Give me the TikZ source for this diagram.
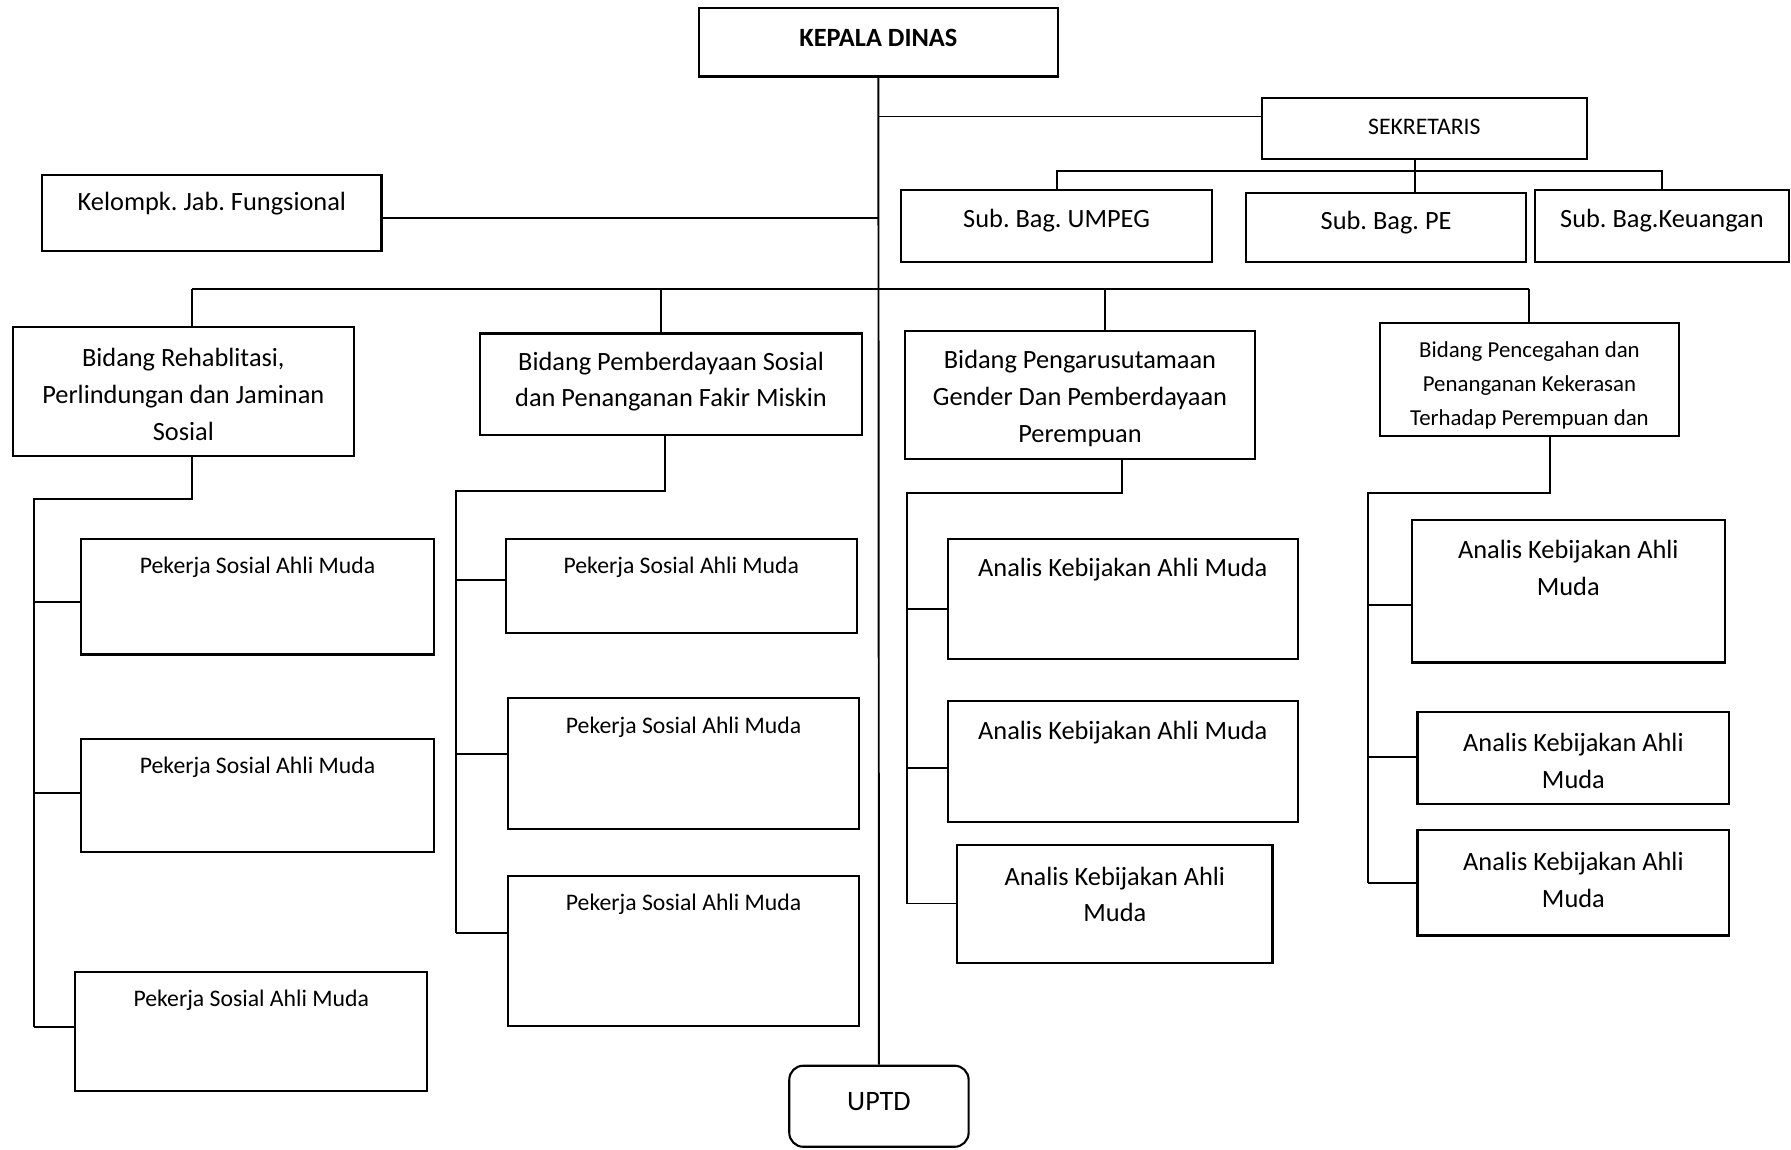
\documentclass[tikz,border=0pt]{standalone}
\usepackage{fontspec}
\setmainfont{Carlito}
\frenchspacing
\usetikzlibrary{fit}
\newcommand{\px}{0.022844cm}
\tikzset{
    box/.style={draw, rectangle, line width=1.2pt, inner sep=0pt}
}
\tikzset{
    lbl/.style={anchor=center, align=center, inner sep=0pt, yshift=-3*\px,
    	font=\fontsize{15}{21}\selectfont},
    lblsmall/.style={lbl, font=\fontsize{13.5}{19.5}\selectfont}
}
\tikzset{
    link/.style={line width=1.1pt}
}

\begin{document}
\begin{tikzpicture}[x=\px, y=-\px]
	\useasboundingbox (0,0) rectangle (1568,1006);

	\node (kd) [box, fit={(612,7) (926,67)}, label={[lbl, font=\fontsize{15}{21}\selectfont\bfseries, yshift=-24*\px]north:KEPALA DINAS}] {};
	\node (sek) [box, fit={(1105,86) (1389,139)}, label={[lblsmall, yshift=-23*\px]north:SEKRETARIS}] {};
	\node (kjf) [box, fit={(37,153) (334,220)}, label={[lbl, yshift=-23*\px]north:Kelompk. Jab. Fungsional}] {};
	\node (umpeg) [box, fit={(789,166) (1061,229)}, label={[lbl, yshift=-25*\px]north:Sub. Bag. UMPEG}] {};
	\node (pe) [box, fit={(1091,169) (1336,229)}, label={[lbl, yshift=-24*\px]north:Sub. Bag. PE}] {};
	\node (keu) [box, fit={(1344,166) (1566,229)}, label={[lbl, yshift=-25*\px]north:Sub. Bag.Keuangan}] {};

	\node (b1) [box, fit={(11,286) (310,399)}, label={[lbl, yshift=-57.5*\px]north:{Bidang Rehablitasi,\\Perlindungan dan Jaminan\\Sosial}}] {};
	\node (b2) [box, fit={(420,292) (755,381)}, label={[lbl, yshift=-40*\px]north:{Bidang Pemberdayaan Sosial\\dan Penanganan Fakir Miskin}}] {};
	\node (b3) [box, fit={(792,290) (1099,402)}, label={[lbl, yshift=-56.5*\px]north:{Bidang Pengarusutamaan\\Gender Dan Pemberdayaan\\Perempuan}}] {};
	\node (b4) [box, fit={(1208,283) (1470,382)}, label={[lbl, font=\fontsize{13}{19.5}\selectfont, yshift=-52.5*\px]north:{Bidang Pencegahan dan\\Penanganan Kekerasan\\Terhadap Perempuan dan}}] {};

	\node (pk1) [box, fit={(71,472) (380,573)}, label={[lblsmall, yshift=-23*\px]north:Pekerja Sosial Ahli Muda}] {};
	\node (pk2) [box, fit={(71,647) (380,746)}, label={[lblsmall, yshift=-23*\px]north:Pekerja Sosial Ahli Muda}] {};
	\node (pk3) [box, fit={(66,851) (374,955)}, label={[lblsmall, yshift=-23*\px]north:Pekerja Sosial Ahli Muda}] {};
	\node (pk4) [box, fit={(443,472) (750,554)}, label={[lblsmall, yshift=-23*\px]north:Pekerja Sosial Ahli Muda}] {};
	\node (pk5) [box, fit={(445,611) (752,726)}, label={[lblsmall, yshift=-24*\px]north:Pekerja Sosial Ahli Muda}] {};
	\node (pk6) [box, fit={(445,767) (752,898)}, label={[lblsmall, yshift=-23*\px]north:Pekerja Sosial Ahli Muda}] {};

	\node (ak1) [box, fit={(830,472) (1136,577)}, label={[lbl, yshift=-25*\px]north:Analis Kebijakan Ahli Muda}] {};
	\node (ak2) [box, fit={(830,614) (1136,720)}, label={[lbl, yshift=-25*\px]north:Analis Kebijakan Ahli Muda}] {};
	\node (ak3) [box, fit={(838,740) (1114,843)}, label={[lbl, yshift=-41*\px]north:{Analis Kebijakan Ahli\\Muda}}] {};
	\node (ak4) [box, fit={(1236,455) (1510,580)}, label={[lbl, yshift=-40.5*\px]north:{Analis Kebijakan Ahli\\Muda}}] {};
	\node (ak5) [box, fit={(1241,623) (1514,704)}, label={[lbl, yshift=-41*\px]north:{Analis Kebijakan Ahli\\Muda}}] {};
	\node (ak6) [box, fit={(1241,727) (1514,819)}, label={[lbl, yshift=-41*\px]north:{Analis Kebijakan Ahli\\Muda}}] {};

	\node (uptd) [box, rounded corners=8pt, fit={(691,933) (848,1004)}, label={[lbl, font=\fontsize{16}{20}\selectfont, yshift=-29*\px]north:UPTD}] {};

	% trunk and top level
	\draw[link] (kd.south) -- (uptd.north);
	\draw[link] (kd.south |- 0,102) -- (sek.west |- 0,102);
	\draw[link] (kjf.east |- 0,191) -- (kd.south |- 0,191);

	\coordinate (sbus) at (1239,150);
	\draw[link] (umpeg.north) |- (sbus) -| (keu.north);
	\draw[link] (sek.south -| sbus) -- (pe.north -| sbus);

	% bidang bus
	\foreach \b/\xx in {1/168, 2/579, 3/967, 4/1339}
		\coordinate (d\b) at (\xx,253);
	\draw[link] (d1) -- (d4);
	\foreach \b in {1,...,4}
		\draw[link] (d\b) -- (d\b |- b\b.north);

	% columns below each bidang
	\foreach \c/\tx/\sx/\yy/\ye in {1/168/30/437/899, 2/582/399/430/817, 3/982/794/432/791, 4/1357/1198/432/773} {
		\coordinate (t\c) at (\tx,\yy);
		\coordinate (s\c) at (\sx,\yy);
		\draw[link] (t\c |- b\c.south) -- (t\c) -- (s\c) -- (s\c |- 0,\ye);
	}
	\foreach \n/\yy in {pk1/527, pk2/694, pk3/899}
		\draw[link] (s1 |- 0,\yy) -- (\n.west |- 0,\yy);
	\foreach \n/\yy in {pk4/508, pk5/660, pk6/817}
		\draw[link] (s2 |- 0,\yy) -- (\n.west |- 0,\yy);
	\foreach \n/\yy in {ak1/533, ak2/672, ak3/791}
		\draw[link] (s3 |- 0,\yy) -- (\n.west |- 0,\yy);
	\foreach \n/\yy in {ak4/530, ak5/663, ak6/773}
		\draw[link] (s4 |- 0,\yy) -- (\n.west |- 0,\yy);
\end{tikzpicture}
\end{document}
